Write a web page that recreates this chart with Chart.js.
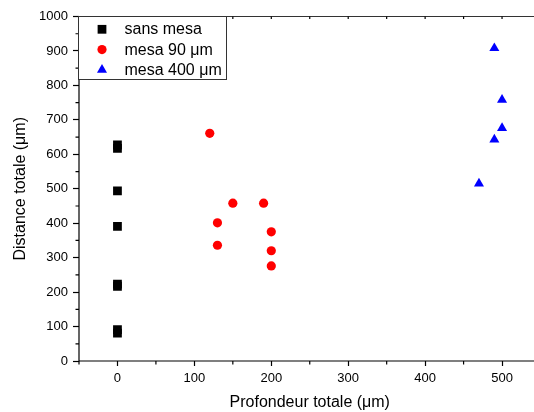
<!DOCTYPE html>
<html>
<head>
<meta charset="utf-8">
<script src="https://cdn.jsdelivr.net/npm/chart.js@4.4.0/dist/chart.umd.min.js"></script>
<style>
    html, body { margin: 0; padding: 0; overflow: hidden; background: #fff; }
    #wrap { width: 560px; height: 412px; }
</style>
</head>
<body>
<div id="wrap"><canvas id="myChart" width="560" height="412"></canvas></div>
<script>
// data
const seriesNames = ['sans mesa', 'mesa 90 \u03bcm', 'mesa 400 \u03bcm'];
const sansX = [0, 0, 0, 0, 0, 0, 0, 0];
const sansY = [627, 617, 494, 391, 223, 217, 91, 81];
const mesa90X = [120, 130, 130, 150, 190, 200, 200, 200];
const mesa90Y = [661, 401, 336, 458, 458, 375, 320, 276];
const mesa400X = [490, 500, 500, 490, 470];
const mesa400Y = [908, 758, 676, 643, 515];

const xTicks = [0, 100, 200, 300, 400, 500];
const xMinor = [-50, 50, 150, 250, 350, 450, 550];
const yTicks = [0, 100, 200, 300, 400, 500, 600, 700, 800, 900, 1000];
const yMinor = [50, 150, 250, 350, 450, 550, 650, 750, 850, 950];

const FONT = "'Liberation Sans', Arial, sans-serif";

const toPoints = (xs, ys) => xs.map((x, i) => ({ x: x, y: ys[i] }));

// axis frame, minor ticks and top ticks
const framePlugin = {
    id: 'frame',
    beforeDatasetsDraw(chart) {
        const { ctx, chartArea: a, scales } = chart;
        const xs = scales.x, ys = scales.y;
        ctx.save();
        ctx.strokeStyle = '#000';
        ctx.lineWidth = 1.2;
        ctx.beginPath();
        ctx.moveTo(a.left, a.top);
        ctx.lineTo(a.left, a.bottom);
        ctx.lineTo(a.right, a.bottom);
        ctx.stroke();
        ctx.strokeStyle = '#333';
        ctx.beginPath();
        ctx.moveTo(a.left, a.top);
        ctx.lineTo(a.right, a.top);
        ctx.stroke();
        ctx.strokeStyle = '#000';
        ctx.beginPath();
        yMinor.forEach(v => {
            const p = ys.getPixelForValue(v);
            ctx.moveTo(a.left, p);
            ctx.lineTo(a.left - 3.5, p);
        });
        xMinor.forEach(v => {
            const p = xs.getPixelForValue(v);
            ctx.moveTo(p, a.bottom);
            ctx.lineTo(p, a.bottom + 3.5);
        });
        xTicks.concat(xMinor).forEach(v => {
            const p = xs.getPixelForValue(v);
            ctx.moveTo(p, a.top);
            ctx.lineTo(p, a.top + 2.5);
        });
        ctx.stroke();
        ctx.restore();
    }
};

// boxed legend in the upper left corner
const legendPlugin = {
    id: 'boxLegend',
    afterDraw(chart) {
        const { ctx, chartArea: a } = chart;
        const left = a.left - 0.5, top = a.top;
        ctx.save();
        ctx.fillStyle = '#fff';
        ctx.fillRect(left, top, 148, 63);
        ctx.strokeStyle = '#333';
        ctx.lineWidth = 1;
        ctx.strokeRect(left, top, 148, 63);
        ctx.font = '16px ' + FONT;
        ctx.textBaseline = 'middle';
        ctx.textAlign = 'left';
        chart.data.datasets.forEach((ds, i) => {
            const y = top + 12.8 + i * 20.3;
            const opts = {
                pointStyle: ds.pointStyle,
                radius: ds.pointRadius,
                rotation: 0,
                borderWidth: 0
            };
            ctx.fillStyle = ds.backgroundColor;
            ctx.strokeStyle = ds.backgroundColor;
            Chart.helpers.drawPoint(ctx, opts, left + 23.5, y);
            ctx.fillStyle = '#000';
            ctx.fillText(ds.label, left + 46, y + 0.5);
        });
        ctx.restore();
    }
};

const ctx = document.getElementById('myChart').getContext('2d');
new Chart(ctx, {
    type: 'scatter',
    data: {
        datasets: [
            {
                label: seriesNames[0],
                data: toPoints(sansX, sansY),
                pointStyle: 'rect',
                pointRadius: 6.2,
                backgroundColor: '#000000',
                borderColor: '#000000',
                borderWidth: 0
            },
            {
                label: seriesNames[1],
                data: toPoints(mesa90X, mesa90Y),
                pointStyle: 'circle',
                pointRadius: 4.6,
                backgroundColor: '#ff0000',
                borderColor: '#ff0000',
                borderWidth: 0
            },
            {
                label: seriesNames[2],
                data: toPoints(mesa400X, mesa400Y),
                pointStyle: 'triangle',
                pointRadius: 5.8,
                backgroundColor: '#0000ff',
                borderColor: '#0000ff',
                borderWidth: 0
            }
        ]
    },
    options: {
        responsive: false,
        animation: false,
        events: [],
        layout: { padding: { top: 16.5, right: 19.5, left: 0, bottom: 0 } },
        plugins: {
            legend: { display: false },
            tooltip: { enabled: false }
        },
        scales: {
            x: {
                type: 'linear',
                min: -50,
                max: 550,
                afterBuildTicks: s => { s.ticks = xTicks.map(v => ({ value: v })); },
                afterFit: s => { s.height = 51; },
                grid: { display: true, drawOnChartArea: false, drawTicks: true, tickLength: 5, tickColor: '#000', tickWidth: 1.2 },
                border: { display: false },
                ticks: { color: '#000', font: { family: FONT, size: 13 }, padding: 5, maxRotation: 0, callback: v => String(v) },
                title: {
                    display: true,
                    text: 'Profondeur totale (\u03bcm)',
                    color: '#000',
                    font: { family: FONT, size: 16 },
                    padding: { top: 0, bottom: 0 }
                }
            },
            y: {
                type: 'linear',
                min: 0,
                max: 1000,
                afterBuildTicks: s => { s.ticks = yTicks.map(v => ({ value: v })); },
                afterFit: s => { s.width = 79; },
                grid: { display: true, drawOnChartArea: false, drawTicks: true, tickLength: 6, tickColor: '#000', tickWidth: 1.2 },
                border: { display: false },
                ticks: { color: '#000', font: { family: FONT, size: 13 }, padding: 5, callback: v => String(v) },
                title: {
                    display: true,
                    text: 'Distance totale (\u03bcm)',
                    color: '#000',
                    font: { family: FONT, size: 16 },
                    padding: { top: 10.5, bottom: 0 }
                }
            }
        }
    },
    plugins: [framePlugin, legendPlugin]
});
</script>
</body>
</html>
